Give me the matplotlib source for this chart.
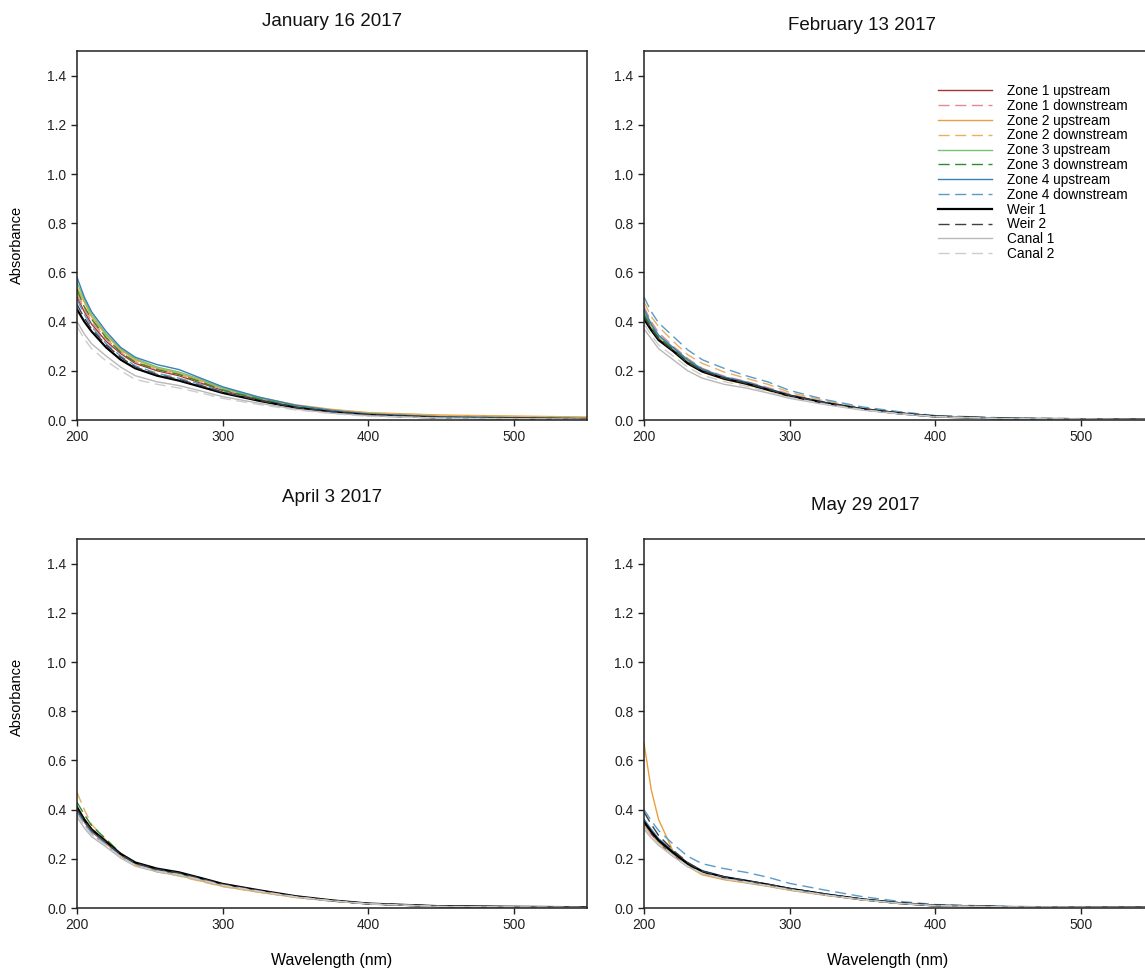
import matplotlib
matplotlib.use("Agg")
import matplotlib.pyplot as plt

plt.rcParams['font.family'] = ['Liberation Sans', 'DejaVu Sans']

wavelength = [200, 205, 210, 220, 230, 240, 255, 270, 285, 300, 325, 350, 375, 400, 450, 550]

series_names = ['Zone 1 upstream', 'Zone 1 downstream', 'Zone 2 upstream', 'Zone 2 downstream',
                'Zone 3 upstream', 'Zone 3 downstream', 'Zone 4 upstream', 'Zone 4 downstream',
                'Weir 1', 'Weir 2', 'Canal 1', 'Canal 2']
series_colors = ['#b03232', '#e08c8c', '#e8a03c', '#e8b062', '#74c474', '#2e8b2e',
                 '#3a80b8', '#5a9cc8', '#000000', '#404040', '#b8b8b8', '#cdcdcd']
series_dashed = [False, True, False, True, False, True, False, True, False, True, False, True]

panel_titles = ['January 16 2017', 'February 13 2017', 'April 3 2017', 'May 29 2017']

# absorbance, one row per series (same order as series_names)
jan = [
    [0.50, 0.44, 0.39, 0.32, 0.27, 0.23, 0.20, 0.18, 0.15, 0.12, 0.085, 0.055, 0.037, 0.024, 0.014, 0.008],
    [0.51, 0.45, 0.40, 0.33, 0.275, 0.235, 0.205, 0.185, 0.155, 0.125, 0.088, 0.057, 0.038, 0.025, 0.015, 0.008],
    [0.54, 0.48, 0.42, 0.345, 0.285, 0.245, 0.21, 0.19, 0.16, 0.13, 0.092, 0.062, 0.043, 0.030, 0.020, 0.012],
    [0.52, 0.46, 0.41, 0.335, 0.28, 0.24, 0.205, 0.185, 0.155, 0.125, 0.090, 0.060, 0.041, 0.028, 0.018, 0.010],
    [0.56, 0.49, 0.43, 0.35, 0.29, 0.25, 0.215, 0.195, 0.165, 0.13, 0.090, 0.058, 0.038, 0.024, 0.013, 0.006],
    [0.53, 0.46, 0.41, 0.335, 0.275, 0.235, 0.205, 0.185, 0.155, 0.122, 0.086, 0.055, 0.036, 0.022, 0.012, 0.005],
    [0.58, 0.50, 0.44, 0.36, 0.295, 0.255, 0.225, 0.205, 0.17, 0.135, 0.093, 0.060, 0.039, 0.025, 0.013, 0.006],
    [0.49, 0.43, 0.38, 0.31, 0.26, 0.22, 0.19, 0.17, 0.145, 0.115, 0.080, 0.052, 0.034, 0.021, 0.011, 0.004],
    [0.45, 0.40, 0.36, 0.295, 0.245, 0.21, 0.18, 0.16, 0.135, 0.11, 0.078, 0.050, 0.032, 0.020, 0.009, 0.003],
    [0.47, 0.415, 0.37, 0.305, 0.255, 0.215, 0.185, 0.165, 0.14, 0.113, 0.080, 0.052, 0.034, 0.021, 0.010, 0.004],
    [0.40, 0.35, 0.31, 0.26, 0.215, 0.18, 0.155, 0.14, 0.118, 0.095, 0.068, 0.044, 0.028, 0.017, 0.008, 0.003],
    [0.38, 0.33, 0.29, 0.24, 0.20, 0.165, 0.145, 0.13, 0.11, 0.088, 0.063, 0.041, 0.026, 0.015, 0.007, 0.002],
]
feb = [
    [0.42, 0.37, 0.33, 0.285, 0.235, 0.20, 0.17, 0.15, 0.125, 0.10, 0.070, 0.045, 0.028, 0.015, 0.006, 0.002],
    [0.46, 0.40, 0.355, 0.30, 0.25, 0.21, 0.178, 0.157, 0.132, 0.105, 0.073, 0.047, 0.030, 0.016, 0.006, 0.002],
    [0.43, 0.375, 0.33, 0.28, 0.23, 0.195, 0.165, 0.145, 0.12, 0.095, 0.065, 0.042, 0.026, 0.014, 0.005, 0.002],
    [0.48, 0.42, 0.38, 0.32, 0.265, 0.23, 0.195, 0.17, 0.145, 0.112, 0.077, 0.050, 0.032, 0.017, 0.007, 0.003],
    [0.44, 0.385, 0.34, 0.29, 0.24, 0.205, 0.172, 0.152, 0.127, 0.10, 0.070, 0.045, 0.028, 0.015, 0.006, 0.002],
    [0.43, 0.38, 0.335, 0.29, 0.24, 0.205, 0.172, 0.152, 0.126, 0.10, 0.069, 0.045, 0.028, 0.015, 0.006, 0.002],
    [0.45, 0.39, 0.345, 0.295, 0.245, 0.207, 0.175, 0.155, 0.128, 0.102, 0.071, 0.046, 0.029, 0.015, 0.006, 0.002],
    [0.50, 0.44, 0.395, 0.34, 0.285, 0.245, 0.21, 0.18, 0.155, 0.12, 0.082, 0.053, 0.034, 0.018, 0.008, 0.003],
    [0.41, 0.365, 0.325, 0.28, 0.23, 0.197, 0.168, 0.148, 0.123, 0.098, 0.068, 0.044, 0.027, 0.014, 0.005, 0.002],
    [0.42, 0.37, 0.33, 0.283, 0.233, 0.20, 0.17, 0.15, 0.125, 0.10, 0.069, 0.045, 0.028, 0.015, 0.006, 0.002],
    [0.37, 0.33, 0.29, 0.245, 0.20, 0.17, 0.145, 0.13, 0.11, 0.088, 0.062, 0.040, 0.025, 0.013, 0.005, 0.002],
    [0.39, 0.345, 0.305, 0.26, 0.215, 0.182, 0.156, 0.138, 0.115, 0.092, 0.064, 0.042, 0.026, 0.014, 0.005, 0.002],
]
apr = [
    [0.40, 0.35, 0.31, 0.262, 0.212, 0.178, 0.152, 0.137, 0.115, 0.093, 0.068, 0.045, 0.029, 0.017, 0.006, 0.002],
    [0.39, 0.34, 0.30, 0.255, 0.207, 0.173, 0.148, 0.133, 0.112, 0.090, 0.066, 0.044, 0.028, 0.016, 0.006, 0.002],
    [0.41, 0.36, 0.315, 0.265, 0.213, 0.176, 0.148, 0.132, 0.11, 0.088, 0.064, 0.043, 0.028, 0.017, 0.007, 0.003],
    [0.47, 0.40, 0.34, 0.275, 0.215, 0.175, 0.147, 0.13, 0.108, 0.087, 0.064, 0.043, 0.028, 0.017, 0.007, 0.003],
    [0.41, 0.36, 0.32, 0.27, 0.218, 0.182, 0.156, 0.14, 0.117, 0.094, 0.069, 0.046, 0.029, 0.017, 0.006, 0.002],
    [0.43, 0.38, 0.335, 0.28, 0.222, 0.184, 0.157, 0.141, 0.118, 0.095, 0.070, 0.047, 0.030, 0.018, 0.007, 0.003],
    [0.40, 0.355, 0.315, 0.268, 0.218, 0.183, 0.157, 0.142, 0.119, 0.096, 0.071, 0.047, 0.030, 0.018, 0.007, 0.003],
    [0.39, 0.345, 0.305, 0.26, 0.212, 0.178, 0.153, 0.138, 0.116, 0.094, 0.069, 0.046, 0.029, 0.017, 0.006, 0.002],
    [0.41, 0.36, 0.32, 0.27, 0.22, 0.185, 0.16, 0.145, 0.122, 0.098, 0.072, 0.048, 0.031, 0.018, 0.007, 0.003],
    [0.40, 0.355, 0.315, 0.266, 0.217, 0.182, 0.157, 0.142, 0.12, 0.096, 0.071, 0.047, 0.030, 0.018, 0.007, 0.003],
    [0.37, 0.325, 0.29, 0.248, 0.203, 0.17, 0.147, 0.133, 0.113, 0.091, 0.067, 0.045, 0.029, 0.017, 0.006, 0.002],
    [0.38, 0.335, 0.298, 0.254, 0.208, 0.174, 0.15, 0.136, 0.115, 0.093, 0.068, 0.045, 0.029, 0.017, 0.006, 0.002],
]
may = [
    [0.34, 0.30, 0.265, 0.215, 0.172, 0.142, 0.12, 0.106, 0.091, 0.075, 0.053, 0.034, 0.020, 0.010, 0.004, 0.002],
    [0.33, 0.29, 0.258, 0.21, 0.168, 0.138, 0.117, 0.104, 0.09, 0.074, 0.052, 0.033, 0.019, 0.009, 0.004, 0.002],
    [0.67, 0.48, 0.36, 0.23, 0.17, 0.135, 0.115, 0.102, 0.088, 0.072, 0.051, 0.033, 0.019, 0.009, 0.004, 0.002],
    [0.34, 0.30, 0.265, 0.215, 0.17, 0.14, 0.118, 0.104, 0.09, 0.073, 0.052, 0.033, 0.019, 0.009, 0.004, 0.002],
    [0.35, 0.31, 0.272, 0.222, 0.177, 0.146, 0.123, 0.109, 0.094, 0.077, 0.054, 0.035, 0.020, 0.010, 0.004, 0.002],
    [0.36, 0.315, 0.278, 0.226, 0.18, 0.148, 0.125, 0.11, 0.095, 0.078, 0.055, 0.035, 0.021, 0.010, 0.004, 0.002],
    [0.36, 0.32, 0.282, 0.23, 0.184, 0.152, 0.128, 0.113, 0.097, 0.080, 0.057, 0.036, 0.021, 0.011, 0.005, 0.002],
    [0.40, 0.355, 0.315, 0.26, 0.21, 0.18, 0.16, 0.145, 0.125, 0.10, 0.072, 0.046, 0.027, 0.014, 0.006, 0.003],
    [0.35, 0.31, 0.275, 0.225, 0.18, 0.148, 0.125, 0.11, 0.095, 0.078, 0.055, 0.035, 0.020, 0.010, 0.004, 0.002],
    [0.39, 0.34, 0.295, 0.235, 0.185, 0.15, 0.126, 0.111, 0.096, 0.079, 0.056, 0.036, 0.021, 0.011, 0.005, 0.002],
    [0.32, 0.285, 0.255, 0.21, 0.168, 0.14, 0.118, 0.105, 0.09, 0.074, 0.052, 0.033, 0.019, 0.009, 0.004, 0.002],
    [0.33, 0.29, 0.26, 0.213, 0.17, 0.141, 0.119, 0.106, 0.091, 0.075, 0.053, 0.034, 0.019, 0.010, 0.004, 0.002],
]
panel_data = [jan, feb, apr, may]

W, H = 1145, 974
fig = plt.figure(figsize=(W / 100, H / 100), dpi=100)

# axes boxes in pixels (left, top), all 510 x 369
boxes = [(77, 51), (644, 51), (77, 539), (644, 539)]
# title centres in pixels
title_pos = [(332, 21), (862, 25), (332, 497), (865, 505)]

axes = []
for i, (x0, y0) in enumerate(boxes):
    ax = fig.add_axes([x0 / W, 1 - (y0 + 369) / H, 510 / W, 369 / H])
    rows = panel_data[i]
    for j, name in enumerate(series_names):
        ls = (0, (8, 4)) if series_dashed[j] else '-'
        lw = 1.6 if name == 'Weir 1' else 1.0
        ax.plot(wavelength, rows[j], color=series_colors[j], linestyle=ls, lw=lw, label=name)
    ax.set_xlim(200, 550)
    ax.set_ylim(0, 1.5)
    ax.set_xticks([200, 300, 400, 500])
    ax.set_yticks([0.0, 0.2, 0.4, 0.6, 0.8, 1.0, 1.2, 1.4])
    ax.set_yticklabels(['%.1f' % v for v in [0.0, 0.2, 0.4, 0.6, 0.8, 1.0, 1.2, 1.4]])
    ax.tick_params(direction='out', length=4, width=1, labelsize=10, color='#222222', labelcolor='#222222')
    for s in ax.spines.values():
        s.set_linewidth(1.1)
        s.set_color('#222222')
    fig.text(title_pos[i][0] / W, 1 - title_pos[i][1] / H, panel_titles[i],
             ha='center', va='center', fontsize=13.5, color='#111111')
    axes.append(ax)

fig.text(17 / W, 1 - 245 / H, 'Absorbance', rotation=90, ha='center', va='center', fontsize=10.5)
fig.text(17 / W, 1 - 697 / H, 'Absorbance', rotation=90, ha='center', va='center', fontsize=10.5)
fig.text(332 / W, 1 - 960 / H, 'Wavelength (nm)', ha='center', va='center', fontsize=11.5)
fig.text(888 / W, 1 - 960 / H, 'Wavelength (nm)', ha='center', va='center', fontsize=11.5)

axes[1].legend(loc='upper left', bbox_to_anchor=(938 / W, 1 - 84 / H), bbox_transform=fig.transFigure,
               frameon=False, fontsize=9.8, handlelength=4.0, handletextpad=1.1,
               labelspacing=0.06, borderpad=0, borderaxespad=0)

fig.savefig('out.png', dpi=100)
